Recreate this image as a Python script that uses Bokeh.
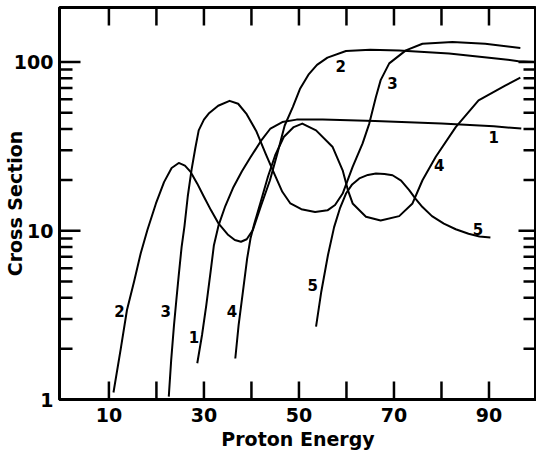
from bokeh.plotting import figure
from bokeh.models import FixedTicker, Range1d
from bokeh.core.properties import value
from bokeh.embed import file_html
from bokeh.resources import INLINE

# ---- data ----
c1_x = [28.6, 29.6, 30.5, 31.4, 32.1, 33.1, 34.5, 36.2, 38.0, 39.8, 42.0, 44.0, 46.5, 49.5, 55.0, 66.0, 80.0, 91.0, 96.8]
c1_y = [1.64, 2.41, 3.62, 5.7, 8.2, 10.8, 14.0, 18.1, 22.5, 27.2, 34.0, 40.3, 44.0, 45.5, 45.5, 44.6, 43.1, 41.5, 40.3]

c2_x = [10.96, 12.5, 13.8, 15.3, 16.7, 18.1, 19.9, 21.6, 23.2, 24.7, 26.0, 27.2, 28.6, 30.0, 31.5, 33.1, 35.0, 36.5,
        37.8, 39.0, 40.3, 42.0, 43.9, 45.5, 47.0, 48.7, 50.2, 52.0, 53.8, 56.0, 59.9, 65.0, 71.1, 81.6, 92.0, 96.2, 99.5]
c2_y = [1.10, 2.0, 3.39, 5.0, 7.36, 10.1, 14.5, 19.4, 23.5, 25.2, 24.3, 22.3, 19.0, 15.9, 13.2, 11.0, 9.5, 8.8,
        8.6, 8.9, 10.1, 14.0, 19.9, 29.0, 42.0, 54.0, 69.0, 84.0, 96.0, 106.0, 116.0, 118.0, 117.0, 112.0, 104.5, 101.0, 100.0]

c3_x = [22.6, 23.1, 23.7, 24.2, 24.7, 25.3, 25.9, 26.6, 27.4, 28.2, 28.9, 30.0, 31.0, 33.0, 35.4, 37.2, 39.0, 41.0,
        43.0, 44.8, 46.5, 48.2, 50.5, 53.4, 56.0, 57.6, 59.2, 61.3, 63.4, 64.8, 66.2, 67.2, 69.0, 72.5, 76.0, 82.3, 89.2, 96.6]
c3_y = [1.04, 1.7, 2.76, 3.9, 5.45, 8.0, 10.6, 16.0, 23.0, 31.0, 39.3, 45.5, 49.4, 55.0, 58.8, 56.5, 49.0, 39.0,
        28.5, 21.8, 17.0, 14.5, 13.4, 12.9, 13.2, 14.2, 16.6, 23.9, 32.9, 43.1, 62.0, 78.0, 98.0, 117.0, 128.0, 131.0, 128.0, 121.0]

c4_x = [36.6, 37.3, 38.2, 39.1, 39.8, 40.6, 42.0, 43.5, 45.0, 46.8, 48.9, 50.7, 53.6, 57.1, 59.2, 60.3, 61.3, 64.1,
        67.2, 71.1, 73.9, 76.0, 78.8, 83.0, 87.8, 93.4, 96.6]
c4_y = [1.75, 2.76, 4.34, 6.85, 8.99, 11.0, 15.0, 21.0, 28.0, 35.9, 41.1, 43.1, 39.3, 31.3, 22.8, 17.4, 14.5, 12.1,
        11.5, 12.2, 14.5, 19.9, 27.4, 41.1, 59.2, 72.3, 80.6]

c5_x = [53.6, 54.7, 56.1, 57.4, 58.6, 59.9, 61.2, 62.7, 64.5, 66.2, 68.0, 69.7, 71.5, 73.2, 74.6, 76.0, 78.0, 80.5,
        83.0, 85.7, 88.0, 90.3]
c5_y = [2.7, 4.35, 7.15, 10.5, 13.5, 16.6, 18.8, 20.4, 21.4, 21.8, 21.7, 21.3, 19.8, 17.4, 15.4, 13.8, 12.2, 11.0,
        10.2, 9.6, 9.25, 9.1]

label_x = [58.8, 69.7, 91.0, 79.5, 87.7, 12.2, 21.95, 27.9, 35.9, 52.9]
label_y = [95.0, 75.0, 35.9, 24.4, 10.3, 3.34, 3.34, 2.35, 3.34, 4.76]
label_text = ["2", "3", "1", "4", "5", "2", "3", "1", "4", "5"]

x_major = [10, 30, 50, 70, 90]
x_minor = [20, 40, 60, 80]
y_major = [1, 10, 100]
y_minor = [2, 3, 4, 5, 6, 7, 8, 9, 20, 30, 40, 50, 60, 70, 80, 90]
y_labels = {1: "1", 10: "10", 100: "100"}

x_start, x_end = -0.4, 100
y_start, y_end = 1, 210

FONT = "DejaVu Sans"
W, H = 536, 455
B_LEFT, B_RIGHT, B_TOP, B_BOTTOM = 59, 0, 7, 56

p = figure(width=W, height=H, x_range=Range1d(x_start, x_end), y_range=Range1d(y_start, y_end),
           y_axis_type="log", output_backend="svg", toolbar_location=None,
           min_border_left=B_LEFT, min_border_right=B_RIGHT, min_border_top=B_TOP, min_border_bottom=B_BOTTOM)
p.background_fill_color = "white"
p.border_fill_color = "white"
p.outline_line_color = "black"
p.outline_line_width = 3
p.xgrid.visible = False
p.ygrid.visible = False

def style_axis(ax):
    ax.major_tick_in = 0
    ax.major_tick_out = 0
    ax.minor_tick_in = 0
    ax.minor_tick_out = 0
    ax.major_tick_line_color = None
    ax.minor_tick_line_color = None
    ax.axis_line_width = 3
    ax.axis_line_color = "black"
    ax.major_label_text_font = FONT
    ax.major_label_text_font_style = "bold"
    ax.major_label_text_font_size = "19px"
    ax.major_label_text_color = "black"
    ax.axis_label_text_font = FONT
    ax.axis_label_text_font_style = "bold"
    ax.axis_label_text_font_size = "19px"
    ax.axis_label_text_color = "black"

xa = p.xaxis[0]
xa.ticker = FixedTicker(ticks=x_major, minor_ticks=x_minor)
style_axis(xa)
xa.axis_label = "Proton Energy"
xa.major_label_standoff = 8
xa.axis_label_standoff = 3

ya = p.yaxis[0]
ya.ticker = FixedTicker(ticks=y_major, minor_ticks=y_minor)
style_axis(ya)
ya.major_label_overrides = y_labels
ya.axis_label = "Cross Section"
ya.major_label_standoff = 6
ya.axis_label_standoff = -15

# inward tick marks on all four sides, as segments whose pixel lengths are
# converted into data units from the frame size
frame_w = W - B_LEFT - B_RIGHT
frame_h = H - B_TOP - B_BOTTOM
dx_per_px = (x_end - x_start) / frame_w
ratio_per_px = (y_end / y_start) ** (1.0 / frame_h)

x_all = x_major + x_minor
y_big = [10, 100]
seg = dict(line_width=2.5, line_color="black", line_cap="butt")
n = len(x_all)
p.segment(x0=x_all, y0=[y_start] * n, x1=x_all, y1=[y_start * ratio_per_px ** 18] * n, **seg)   # bottom
p.segment(x0=x_all, y0=[y_end] * n, x1=x_all, y1=[y_end / ratio_per_px ** 18] * n, **seg)       # top
m, k = len(y_big), len(y_minor)
p.segment(x0=[x_start] * m, y0=y_big, x1=[x_start + 21 * dx_per_px] * m, y1=y_big, **seg)       # left major
p.segment(x0=[x_start] * k, y0=y_minor, x1=[x_start + 13 * dx_per_px] * k, y1=y_minor, **seg)   # left minor
p.segment(x0=[x_end] * m, y0=y_big, x1=[x_end - 18 * dx_per_px] * m, y1=y_big, **seg)           # right major
p.segment(x0=[x_end] * k, y0=y_minor, x1=[x_end - 13 * dx_per_px] * k, y1=y_minor, **seg)       # right minor

for cx, cy in [(c1_x, c1_y), (c2_x, c2_y), (c3_x, c3_y), (c4_x, c4_y), (c5_x, c5_y)]:
    p.line(cx, cy, line_width=2, line_color="black", line_join="round")

p.text(x=label_x, y=label_y, text=label_text, text_font=value(FONT), text_font_style="bold",
       text_font_size="15px", text_align="center", text_baseline="middle", text_color="black")

open("out.html", "w").write(file_html(p, INLINE))
